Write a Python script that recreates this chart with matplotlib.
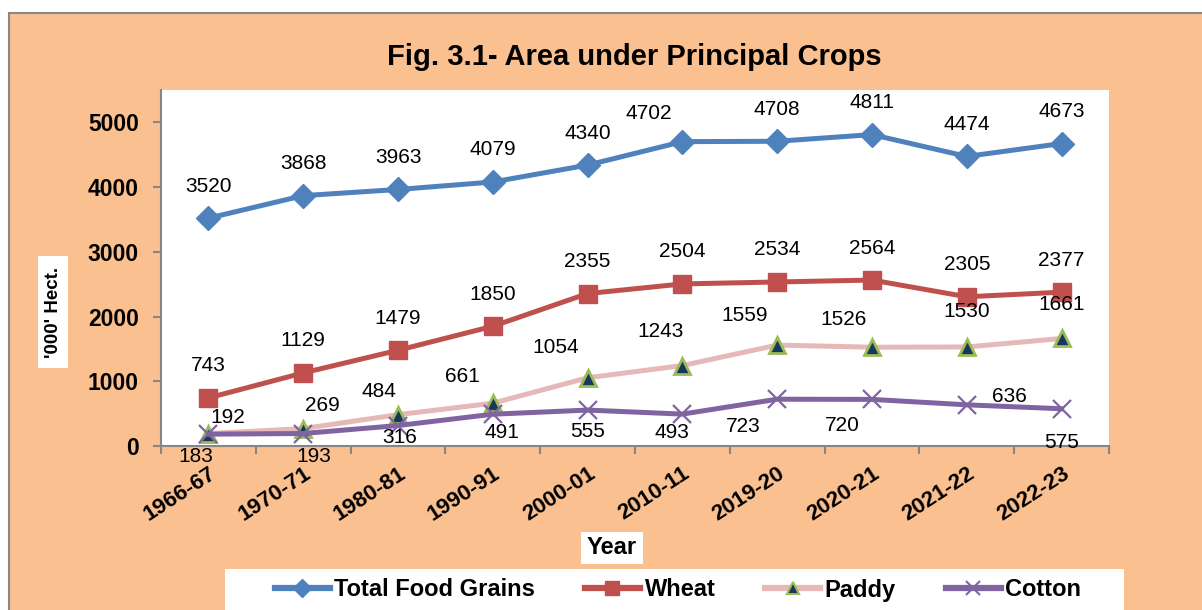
import matplotlib
matplotlib.use('Agg')
import matplotlib.pyplot as plt
import numpy as np
from matplotlib.patches import Rectangle
from matplotlib.lines import Line2D

plt.rcParams['font.family'] = ['Liberation Sans', 'DejaVu Sans']

# ---------------- data ----------------
years = ['1966-67', '1970-71', '1980-81', '1990-91', '2000-01',
         '2010-11', '2019-20', '2020-21', '2021-22', '2022-23']
total = [3520, 3868, 3963, 4079, 4340, 4702, 4708, 4811, 4474, 4673]
wheat = [743, 1129, 1479, 1850, 2355, 2504, 2534, 2564, 2305, 2377]
paddy = [192, 269, 484, 661, 1054, 1243, 1559, 1526, 1530, 1661]
cotton = [183, 193, 316, 491, 555, 493, 723, 720, 636, 575]
y_ticks = [0, 1000, 2000, 3000, 4000, 5000]
series_names = ['Total Food Grains', 'Wheat', 'Paddy', 'Cotton']

# label offsets in pixels (dx right, dy up)
total_off = [(0, 32)] * 5 + [(-34, 28)] + [(0, 32)] * 4
wheat_off = [(0, 32)] * 10
paddy_off = [(19, 16), (19, 23), (-19, 23), (-30, 27), (-32, 30),
             (-22, 34), (-33, 30), (-28, 28), (0, 35), (0, 34)]
cotton_off = [(-13, -22), (11, -23), (2, -12), (9, -18), (0, -21),
              (-10, -18), (-34, -27), (-30, -26), (43, 8), (0, -34)]

# ---------------- figure ----------------
W, H = 1202, 610
fig = plt.figure(figsize=(W / 100, H / 100), dpi=100)
fig.patch.set_facecolor('white')


def fx(px):
    return px / W


def fy(py):
    return 1 - py / H


ORANGE = '#FAC090'
GRAY = '#888888'
C_TOTAL, C_WHEAT, C_PADDY, C_COTTON = '#4F81BD', '#C0504D', '#E6B9B8', '#8064A2'
PADDY_FILL, PADDY_EDGE = '#17375E', '#9BBB59'

bg = Rectangle((fx(9), -0.1), 1.2, fy(13) + 0.1, transform=fig.transFigure,
               facecolor=ORANGE, edgecolor=GRAY, lw=1.5, zorder=-10)
fig.patches.append(bg)

ax = fig.add_axes([fx(161), fy(446), fx(1109) - fx(161), fy(90) - fy(446)])
ax.set_zorder(1)
ax.set_facecolor('white')
x = np.arange(len(years))

ax.plot(x, total, color=C_TOTAL, lw=3.6, marker='D', ms=12,
        mfc=C_TOTAL, mec=C_TOTAL, zorder=3)
ax.plot(x, wheat, color=C_WHEAT, lw=3.6, marker='s', ms=13.5,
        mfc=C_WHEAT, mec=C_WHEAT, zorder=4)
ax.plot(x, paddy, color=C_PADDY, lw=3.6, marker='^', ms=12,
        mfc=PADDY_FILL, mec=PADDY_EDGE, mew=2, zorder=5)
ax.plot(x, cotton, color=C_COTTON, lw=3.6, marker='x', ms=13,
        mec=C_COTTON, mew=1.6, zorder=6)

ax.set_xlim(-0.5, len(years) - 0.5)
ax.set_ylim(0, 5500)

for sp in ['top', 'right']:
    ax.spines[sp].set_visible(False)
for sp in ['left', 'bottom']:
    ax.spines[sp].set_color('#868686')
    ax.spines[sp].set_linewidth(1.5)

ax.set_yticks(y_ticks)
ax.set_yticklabels([str(v) for v in y_ticks], fontsize=16.5, fontweight='bold')
ax.tick_params(axis='y', direction='out', length=6, width=1.5, color='#868686', pad=10)

ax.set_xticks(x)
ax.set_xticklabels(years, fontsize=16, fontweight='bold')
ax.set_xticks(np.arange(-0.5, len(years), 1), minor=True)
ax.tick_params(axis='x', which='major', length=0, pad=12)
ax.tick_params(axis='x', which='minor', direction='out', length=6, width=1.5, color='#868686')
for lbl in ax.get_xticklabels():
    lbl.set_rotation(33)
    lbl.set_ha('right')
    lbl.set_va('top')
    lbl.set_rotation_mode('anchor')

# data labels
for vals, offs in [(total, total_off), (wheat, wheat_off),
                   (paddy, paddy_off), (cotton, cotton_off)]:
    for i, (v, (dx, dy)) in enumerate(zip(vals, offs)):
        ax.annotate(str(v), (i, v), xytext=(dx * 0.72, dy * 0.72),
                    textcoords='offset points', ha='center', va='center',
                    fontsize=15, color='black', zorder=10, annotation_clip=False)

# title
fig.text(fx(634.5), fy(65), 'Fig. 3.1- Area under Principal Crops',
         ha='center', va='baseline', fontsize=21, fontweight='bold', zorder=3)

# y label box
fig.patches.append(Rectangle((fx(38), fy(368)), fx(68) - fx(38), fy(256) - fy(368),
                             transform=fig.transFigure, facecolor='white',
                             edgecolor='none', zorder=2))
fig.text(fx(53), fy(312), "'000' Hect.", rotation=90, ha='center', va='center',
         fontsize=13.5, fontweight='bold', zorder=3)

# x label box
fig.patches.append(Rectangle((fx(581), fy(564)), fx(643) - fx(581), fy(532) - fy(564),
                             transform=fig.transFigure, facecolor='white',
                             edgecolor='none', zorder=2))
fig.text(fx(612), fy(548), 'Year', ha='center', va='center',
         fontsize=17, fontweight='bold', zorder=3)

# legend box
fig.patches.append(Rectangle((fx(225), -0.05), fx(1124) - fx(225), fy(569) + 0.05,
                             transform=fig.transFigure, facecolor='white',
                             edgecolor='none', zorder=2))
handles = [
    Line2D([], [], color=C_TOTAL, lw=4.5, marker='D', ms=9, mfc=C_TOTAL, mec=C_TOTAL),
    Line2D([], [], color=C_WHEAT, lw=4.5, marker='s', ms=10, mfc=C_WHEAT, mec=C_WHEAT),
    Line2D([], [], color=C_PADDY, lw=4.5, marker='^', ms=9, mfc=PADDY_FILL,
           mec=PADDY_EDGE, mew=1.5),
    Line2D([], [], color=C_COTTON, lw=4.5, marker='x', ms=10, mec=C_COTTON, mew=1.5),
]
leg = fig.legend(handles=handles, labels=series_names, loc='center',
                 bbox_to_anchor=(fx(678), fy(590)), ncol=4, frameon=False,
                 prop={'weight': 'bold', 'size': 17}, handlelength=2.33,
                 handletextpad=0.2, columnspacing=2.1, numpoints=1)
leg.set_zorder(3)

fig.savefig('out.png', dpi=100, facecolor=fig.get_facecolor())
